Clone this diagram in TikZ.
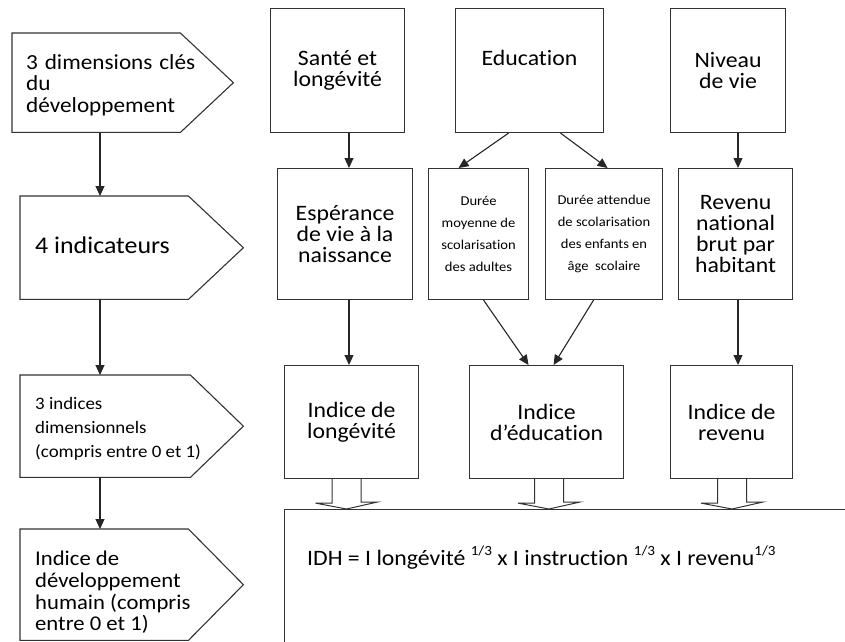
\documentclass[tikz,border=0pt]{standalone}
\usepackage{fontspec}
\setmainfont{Carlito}[FakeStretch=1.08, Ligatures={NoCommon}]
\usetikzlibrary{arrows.meta,calc}
\newcommand\mysupx[1]{\raisebox{0.45em}{\fontsize{14}{14}\selectfont #1}}
\begin{document}
\begin{tikzpicture}[x=1pt,y=-1pt,
  ln/.style={draw=black!80, line width=1.1pt},
  box/.style={ln, rectangle, inner sep=0pt, anchor=north west, align=center},
  frame/.style={rectangle, inner sep=0pt, anchor=north west},
  conn/.style={draw=black!85, line width=1.1pt, -{Triangle[length=10pt,width=9pt]}},
  big/.style={font=\fontsize{22}{21}\selectfont},
  small/.style={font=\fontsize{13.5}{22}\selectfont},
  lefttext/.style={anchor=north west, inner sep=0pt, align=left},
  hollow/.style={draw=black!80, line width=1pt, line join=miter},
]
\useasboundingbox (0,0) rectangle (845,641);
\clip (0,0) rectangle (845,641);

% left column
\node[frame, minimum width=168pt, minimum height=99pt] (s1) at (12,33) {};
\node[frame, minimum width=168pt, minimum height=103pt] (s2) at (20,196) {};
\node[frame, minimum width=170pt, minimum height=102pt] (s3) at (20,375) {};
\node[frame, minimum width=168pt, minimum height=111pt] (s4) at (20,529) {};
\foreach \s/\tip in {s1/53, s2/55, s3/53, s4/55}
  \draw[ln] (\s.north west) -- (\s.north east) -- ($(\s.east)+(\tip,0)$) -- (\s.south east) -- (\s.south west) -- cycle;

\node[lefttext, font=\fontsize{21.5}{21.5}\selectfont] (t1) at (26,54)
  {\makebox[169pt][s]{3 dimensions clés}\\du\\développement};
\node[anchor=west, inner sep=0pt, font=\fontsize{24}{24}\selectfont] (t2) at (35,245) {4 indicateurs};
\node[lefttext, font=\fontsize{17.5}{24}\selectfont] (t3) at (35,397)
  {3 indices\\dimensionnels\\(compris entre 0 et 1)};
\node[lefttext, font=\fontsize{21}{21.7}\selectfont] (t4) at (35,551)
  {Indice de\\développement\\humain (compris\\entre 0 et 1)};

\coordinate (xa) at (100,0);
\draw[conn] (s1.south -| xa) -- (s2.north -| xa);
\draw[conn] (s2.south -| xa) -- (s3.north -| xa);
\draw[conn] (s3.south -| xa) -- (s4.north -| xa);

% top row
\node[box, big, minimum width=134pt, minimum height=124pt] (sante) at (270,8) {Santé et\\longévité};
\node[box, minimum width=148pt, minimum height=124pt] (edu) at (455,8) {};
\node[big, inner sep=0pt] (edut) at ($(edu.center)+(0,-5)$) {\smash{Education}};
\node[box, big, minimum width=115pt, minimum height=124pt] (niv) at (670,8) {Niveau\\de vie};

% second row
\node[box, big, minimum width=135pt, minimum height=131pt] (esp) at (277,168) {Espérance\\de vie à la\\naissance};
\node[box, small, minimum width=100pt, minimum height=131pt] (dm) at (428,168) {Durée\\moyenne de\\scolarisation\\des adultes};
\node[box, small, minimum width=117pt, minimum height=131pt] (da) at (545,168) {Durée attendue\\de scolarisation\\des enfants en\\âge~ scolaire};
\node[box, big, minimum width=114pt, minimum height=131pt] (rev) at (678,168) {Revenu\\national\\brut par\\habitant};

% third row
\node[box, big, minimum width=134pt, minimum height=113pt] (il) at (284,365) {Indice de\\longévité};
\node[box, big, minimum width=154pt, minimum height=113pt] (ie) at (469,365) {Indice\\d’éducation};
\node[box, big, minimum width=122pt, minimum height=113pt] (ir) at (670,365) {Indice de\\revenu};

% IDH box
\node[frame, ln, minimum width=640pt, minimum height=200pt] (idh) at (284,509) {};
\node[anchor=base west, inner sep=0pt, font=\fontsize{22}{22}\selectfont] (f) at (307,565)
  {IDH = I longévité \mysupx{1/3} x I instruction \mysupx{1/3} x I revenu\mysupx{1/3}};

% connectors
\coordinate (x1) at (349,0);
\coordinate (x4) at (738,0);
\draw[conn] (sante.south -| x1) -- (esp.north -| x1);
\draw[conn] ($(edu.south)+(-21,0)$) -- ($(dm.north)+(-20,0)$);
\draw[conn] ($(edu.south)+(31,0)$) -- ($(da.north)+(3.5,0)$);
\draw[conn] (niv.south -| x4) -- (rev.north -| x4);
\draw[conn] (esp.south -| x1) -- (il.north -| x1);
\draw[conn] ($(dm.south)+(5,0)$) -- ($(ie.north)+(-18,0)$);
\draw[conn] ($(da.south)+(-10.5,0)$) -- ($(ie.north)+(7,0)$);
\draw[conn] (rev.south -| x4) -- (ir.north -| x4);

% hollow arrows
\coordinate (h1) at (346.5,0);
\coordinate (h2) at (549,0);
\coordinate (h3) at (732,0);
\foreach \n/\h in {il/h1, ie/h2, ir/h3}
  \draw[hollow] ($(\n.south -| \h)+(-14.5,0)$) -- ++(0,24) -- ++(-16.5,0) -- (idh.north -| \h)
     -- ++(31,-7) -- ++(-16.5,0) -- ($(\n.south -| \h)+(14.5,0)$);
\end{tikzpicture}
\end{document}
